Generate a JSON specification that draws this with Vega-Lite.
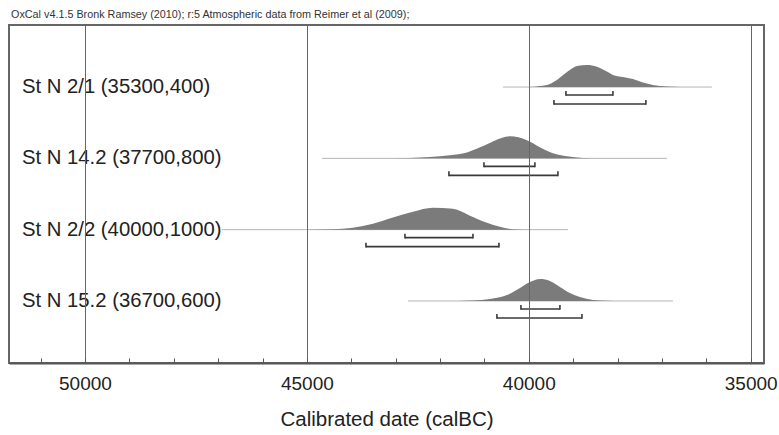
{
  "$schema": "https://vega.github.io/schema/vega-lite/v6.json",
  "width": 755,
  "height": 338,
  "autosize": {"type": "none"},
  "padding": {"left": 9, "top": 25, "right": 15, "bottom": 72},
  "background": "white",
  "title": {"text": "OxCal v4.1.5 Bronk Ramsey (2010); r:5 Atmospheric data from Reimer et al (2009);", "anchor": "start", "frame": "group", "fontSize": 10.8, "font": "Liberation Sans", "fontWeight": "normal", "color": "#333", "offset": 5, "dx": 2},
  "config": {"view": {"stroke": "#666", "strokeWidth": 2}},
  "datasets": {
    "ranges": [
      {"sample": "St N 2/1 (35300,400)", "row": 1, "start": 40582, "end": 35874},
      {"sample": "St N 14.2 (37700,800)", "row": 2, "start": 44660, "end": 36887},
      {"sample": "St N 2/2 (40000,1000)", "row": 3, "start": 46913, "end": 39118},
      {"sample": "St N 15.2 (36700,600)", "row": 4, "start": 42723, "end": 36752}
    ],
    "brackets": [
      {"row": 1, "level": "68.2%", "from": 39163, "to": 38104},
      {"row": 1, "level": "95.4%", "from": 39433, "to": 37361},
      {"row": 2, "level": "68.2%", "from": 41010, "to": 39862},
      {"row": 2, "level": "95.4%", "from": 41799, "to": 39343},
      {"row": 3, "level": "68.2%", "from": 42790, "to": 41258},
      {"row": 3, "level": "95.4%", "from": 43669, "to": 40672},
      {"row": 4, "level": "68.2%", "from": 40177, "to": 39298},
      {"row": 4, "level": "95.4%", "from": 40718, "to": 38802}
    ],
    "density": [
      {"row": 1, "year": 39974, "p": 0},
      {"row": 1, "year": 39591, "p": 0.09},
      {"row": 1, "year": 39366, "p": 0.32},
      {"row": 1, "year": 39140, "p": 0.68},
      {"row": 1, "year": 38915, "p": 0.95},
      {"row": 1, "year": 38690, "p": 1},
      {"row": 1, "year": 38465, "p": 0.92},
      {"row": 1, "year": 38239, "p": 0.7},
      {"row": 1, "year": 38104, "p": 0.55},
      {"row": 1, "year": 37879, "p": 0.45},
      {"row": 1, "year": 37654, "p": 0.36},
      {"row": 1, "year": 37428, "p": 0.2},
      {"row": 1, "year": 37203, "p": 0.09},
      {"row": 1, "year": 36888, "p": 0.02},
      {"row": 1, "year": 36594, "p": 0},
      {"row": 2, "year": 43500, "p": 0},
      {"row": 2, "year": 42678, "p": 0.02},
      {"row": 2, "year": 41777, "p": 0.14},
      {"row": 2, "year": 41393, "p": 0.27},
      {"row": 2, "year": 41100, "p": 0.5},
      {"row": 2, "year": 40808, "p": 0.77},
      {"row": 2, "year": 40425, "p": 1},
      {"row": 2, "year": 40042, "p": 0.82},
      {"row": 2, "year": 39749, "p": 0.5},
      {"row": 2, "year": 39456, "p": 0.23},
      {"row": 2, "year": 39141, "p": 0.09},
      {"row": 2, "year": 38780, "p": 0.02},
      {"row": 2, "year": 38397, "p": 0},
      {"row": 3, "year": 45000, "p": 0},
      {"row": 3, "year": 44413, "p": 0.02},
      {"row": 3, "year": 43962, "p": 0.09},
      {"row": 3, "year": 43511, "p": 0.27},
      {"row": 3, "year": 43061, "p": 0.55},
      {"row": 3, "year": 42610, "p": 0.82},
      {"row": 3, "year": 42160, "p": 1},
      {"row": 3, "year": 41709, "p": 0.95},
      {"row": 3, "year": 41326, "p": 0.64},
      {"row": 3, "year": 40943, "p": 0.32},
      {"row": 3, "year": 40650, "p": 0.14},
      {"row": 3, "year": 40357, "p": 0.02},
      {"row": 3, "year": 40132, "p": 0},
      {"row": 4, "year": 41600, "p": 0},
      {"row": 4, "year": 41258, "p": 0.02},
      {"row": 4, "year": 40875, "p": 0.09},
      {"row": 4, "year": 40492, "p": 0.27},
      {"row": 4, "year": 40199, "p": 0.59},
      {"row": 4, "year": 39974, "p": 0.86},
      {"row": 4, "year": 39748, "p": 1},
      {"row": 4, "year": 39523, "p": 0.91},
      {"row": 4, "year": 39298, "p": 0.64},
      {"row": 4, "year": 39073, "p": 0.36},
      {"row": 4, "year": 38847, "p": 0.18},
      {"row": 4, "year": 38555, "p": 0.05},
      {"row": 4, "year": 38239, "p": 0.01},
      {"row": 4, "year": 37946, "p": 0}
    ]
  },
  "resolve": {"scale": {"y": "independent"}, "axis": {"y": "independent"}},
  "layer": [
    {
      "data": {"name": "ranges"},
      "mark": {"type": "rule", "color": "#b5b5b5", "strokeWidth": 1},
      "encoding": {
        "x": {"field": "start", "type": "quantitative", "title": "Calibrated date (calBC)",
          "scale": {"domain": [34700, 51712], "reverse": true, "nice": false, "zero": false},
          "axis": {
            "values": [51500, 51000, 50500, 50000, 49500, 49000, 48500, 48000, 47500, 47000, 46500, 46000, 45500, 45000, 44500, 44000, 43500, 43000, 42500, 42000, 41500, 41000, 40500, 40000, 39500, 39000, 38500, 38000, 37500, 37000, 36500, 36000, 35500, 35000],
            "format": "d",
            "labelExpr": "datum.value % 5000 === 0 ? datum.label : ''",
            "labelOverlap": false,
            "labelFlush": false,
            "tickSize": -5,
            "tickColor": "#555",
            "tickWidth": 1,
            "domainColor": "#555",
            "domainWidth": 2,
            "grid": true,
            "gridColor": "#666",
            "gridWidth": 1,
            "gridOpacity": {"condition": {"test": "datum.value % 5000 === 0", "value": 1}, "value": 0},
            "labelFont": "Liberation Sans",
            "labelFontSize": 19,
            "labelColor": "#222",
            "labelPadding": 16,
            "titleFont": "Liberation Sans",
            "titleFontSize": 20.5,
            "titleFontWeight": "normal",
            "titleColor": "#222",
            "titlePadding": 16,
            "zindex": 1
          }},
        "x2": {"field": "end"},
        "y": {"field": "row", "type": "quantitative", "scale": {"domain": [0.13, 4.87], "reverse": true, "nice": false, "zero": false}, "axis": null}
      }
    },
    {
      "data": {"name": "density"},
      "transform": [{"filter": "datum.row === 1"}],
      "mark": {"type": "area", "color": "#7b7b7b", "interpolate": "monotone"},
      "encoding": {
        "x": {"field": "year", "type": "quantitative", "title": "Calibrated date (calBC)"},
        "y": {"field": "p", "type": "quantitative", "scale": {"domain": [-12.545, 2.818], "nice": false, "zero": false}, "axis": null},
        "y2": {"datum": 0}
      }
    },
    {
      "data": {"name": "density"},
      "transform": [{"filter": "datum.row === 2"}],
      "mark": {"type": "area", "color": "#7b7b7b", "interpolate": "monotone"},
      "encoding": {
        "x": {"field": "year", "type": "quantitative", "title": "Calibrated date (calBC)"},
        "y": {"field": "p", "type": "quantitative", "scale": {"domain": [-9.3, 6.059], "nice": false, "zero": false}, "axis": null},
        "y2": {"datum": 0}
      }
    },
    {
      "data": {"name": "density"},
      "transform": [{"filter": "datum.row === 3"}],
      "mark": {"type": "area", "color": "#7b7b7b", "interpolate": "monotone"},
      "encoding": {
        "x": {"field": "year", "type": "quantitative", "title": "Calibrated date (calBC)"},
        "y": {"field": "p", "type": "quantitative", "scale": {"domain": [-6.059, 9.305], "nice": false, "zero": false}, "axis": null},
        "y2": {"datum": 0}
      }
    },
    {
      "data": {"name": "density"},
      "transform": [{"filter": "datum.row === 4"}],
      "mark": {"type": "area", "color": "#7b7b7b", "interpolate": "monotone"},
      "encoding": {
        "x": {"field": "year", "type": "quantitative", "title": "Calibrated date (calBC)"},
        "y": {"field": "p", "type": "quantitative", "scale": {"domain": [-2.818, 12.545], "nice": false, "zero": false}, "axis": null},
        "y2": {"datum": 0}
      }
    },
    {
      "data": {"name": "ranges"},
      "mark": {"type": "text", "align": "left", "baseline": "middle", "font": "Liberation Sans", "fontSize": 20.3, "color": "#222"},
      "encoding": {
        "x": {"datum": 51420, "type": "quantitative"},
        "y": {"field": "row", "type": "quantitative", "scale": {"domain": [0.13, 4.87], "reverse": true, "nice": false, "zero": false}, "axis": null},
        "text": {"field": "sample"}
      }
    },
    {
      "data": {"name": "brackets"},
      "transform": [{"filter": "datum.level === '68.2%'"}],
      "mark": {"type": "rule", "color": "#3a3a3a", "strokeWidth": 1.6, "yOffset": 8},
      "encoding": {
        "x": {"field": "from", "type": "quantitative", "title": "Calibrated date (calBC)"},
        "x2": {"field": "to"},
        "y": {"field": "row", "type": "quantitative", "scale": {"domain": [0.13, 4.87], "reverse": true, "nice": false, "zero": false}, "axis": null}
      }
    },
    {
      "data": {"name": "brackets"},
      "transform": [{"filter": "datum.level === '68.2%'"}, {"fold": ["from", "to"], "as": ["end", "value"]}],
      "mark": {"type": "rule", "color": "#3a3a3a", "strokeWidth": 1.6, "yOffset": 4, "y2Offset": 8.8},
      "encoding": {
        "x": {"field": "value", "type": "quantitative", "title": "Calibrated date (calBC)"},
        "y": {"field": "row", "type": "quantitative", "scale": {"domain": [0.13, 4.87], "reverse": true, "nice": false, "zero": false}, "axis": null},
        "y2": {"field": "row"}
      }
    },
    {
      "data": {"name": "brackets"},
      "transform": [{"filter": "datum.level === '95.4%'"}],
      "mark": {"type": "rule", "color": "#3a3a3a", "strokeWidth": 1.6, "yOffset": 17},
      "encoding": {
        "x": {"field": "from", "type": "quantitative", "title": "Calibrated date (calBC)"},
        "x2": {"field": "to"},
        "y": {"field": "row", "type": "quantitative", "scale": {"domain": [0.13, 4.87], "reverse": true, "nice": false, "zero": false}, "axis": null}
      }
    },
    {
      "data": {"name": "brackets"},
      "transform": [{"filter": "datum.level === '95.4%'"}, {"fold": ["from", "to"], "as": ["end", "value"]}],
      "mark": {"type": "rule", "color": "#3a3a3a", "strokeWidth": 1.6, "yOffset": 13, "y2Offset": 17.8},
      "encoding": {
        "x": {"field": "value", "type": "quantitative", "title": "Calibrated date (calBC)"},
        "y": {"field": "row", "type": "quantitative", "scale": {"domain": [0.13, 4.87], "reverse": true, "nice": false, "zero": false}, "axis": null},
        "y2": {"field": "row"}
      }
    }
  ]
}
